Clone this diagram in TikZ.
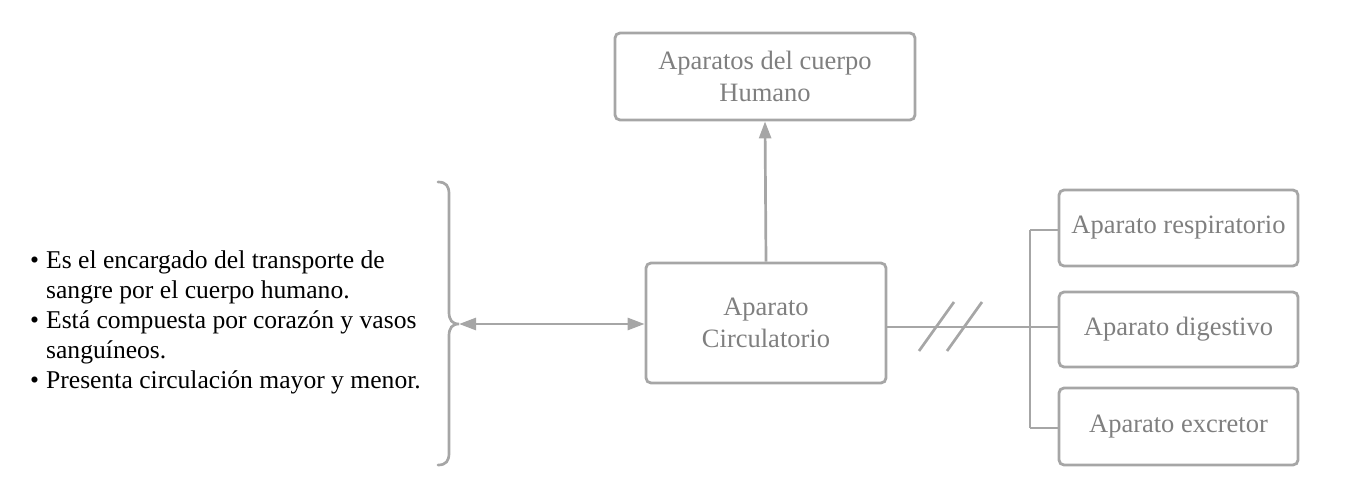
\documentclass[tikz,border=0pt]{standalone}
\usepackage{fontspec}
\setmainfont{Liberation Serif}
\usetikzlibrary{arrows.meta}
\definecolor{edgegray}{HTML}{A6A6A6}
\definecolor{textgray}{HTML}{7F7F7F}
\begin{document}
\begin{tikzpicture}[x=1pt,y=-1pt,
  boxstyle/.style={draw=edgegray, line width=2.8pt, rounded corners=5pt, text=textgray, align=center, inner sep=0pt, font=\fontsize{26.5}{32}\selectfont},
  linkstyle/.style={draw=edgegray, line width=2.7pt},
  headstyle/.style={-{Triangle[length=17pt,width=12pt]}},
]
\useasboundingbox (0,0) rectangle (1352,498);
% boxes
\node[boxstyle, minimum width=300pt, minimum height=87pt] (top) at (765,76.5) {Aparatos del cuerpo\\Humano};
\node[boxstyle, minimum width=240pt, minimum height=120pt] (circ) at (766,323) {Aparato\\Circulatorio};
\node[boxstyle, minimum width=239pt, minimum height=76pt] (r1) at (1178.5,228) {Aparato respiratorio};
\node[boxstyle, minimum width=239pt, minimum height=75pt] (r2) at (1178.5,329.5) {Aparato digestivo};
\node[boxstyle, minimum width=239pt, minimum height=77pt] (r3) at (1178.5,426.5) {Aparato excretor};
% left text
\node[anchor=base west, inner sep=0pt, font=\fontsize{25.6}{30}\selectfont] (desc) at (30,268)
 {\begin{tabular}[t]{@{}l@{\hspace{7pt}}l@{}}
 • & Es el encargado del transporte de\\
   & sangre por el cuerpo humano.\\
 • & Está compuesta por corazón y vasos\\
   & sanguíneos.\\
 • & Presenta circulación mayor y menor.
 \end{tabular}};
% brace
\coordinate (tip) at (459,324);
\draw[linkstyle, line cap=round] (438,182) .. controls (446,182) and (449,186) .. (449,194) -- (449,312)
  .. controls (449,320) and (452,324) .. (tip)
  .. controls (452,324) and (449,328) .. (449,336) -- (449,453)
  .. controls (449,461) and (446,465) .. (438,465);
% arrows
\draw[linkstyle, headstyle] (circ.north) -- (top.south);
\draw[linkstyle, {Triangle[length=17pt,width=12pt]}-{Triangle[length=17pt,width=12pt]}] (tip) -- (circ.west |- tip);
% right connector
\coordinate (bmid) at (1030,327);
\coordinate (btop) at (1030,230);
\coordinate (bbot) at (1030,428);
\draw[linkstyle] (circ.east |- bmid) -- (bmid);
\draw[linkstyle] (btop) -- (bbot);
\draw[linkstyle] (btop) -- (btop -| r1.west);
\draw[linkstyle] (bmid) -- (bmid -| r2.west);
\draw[linkstyle] (bbot) -- (bbot -| r3.west);
% slashes
\draw[linkstyle] (919,351) -- (954,302);
\draw[linkstyle] (947,351) -- (982,302);
\end{tikzpicture}
\end{document}
